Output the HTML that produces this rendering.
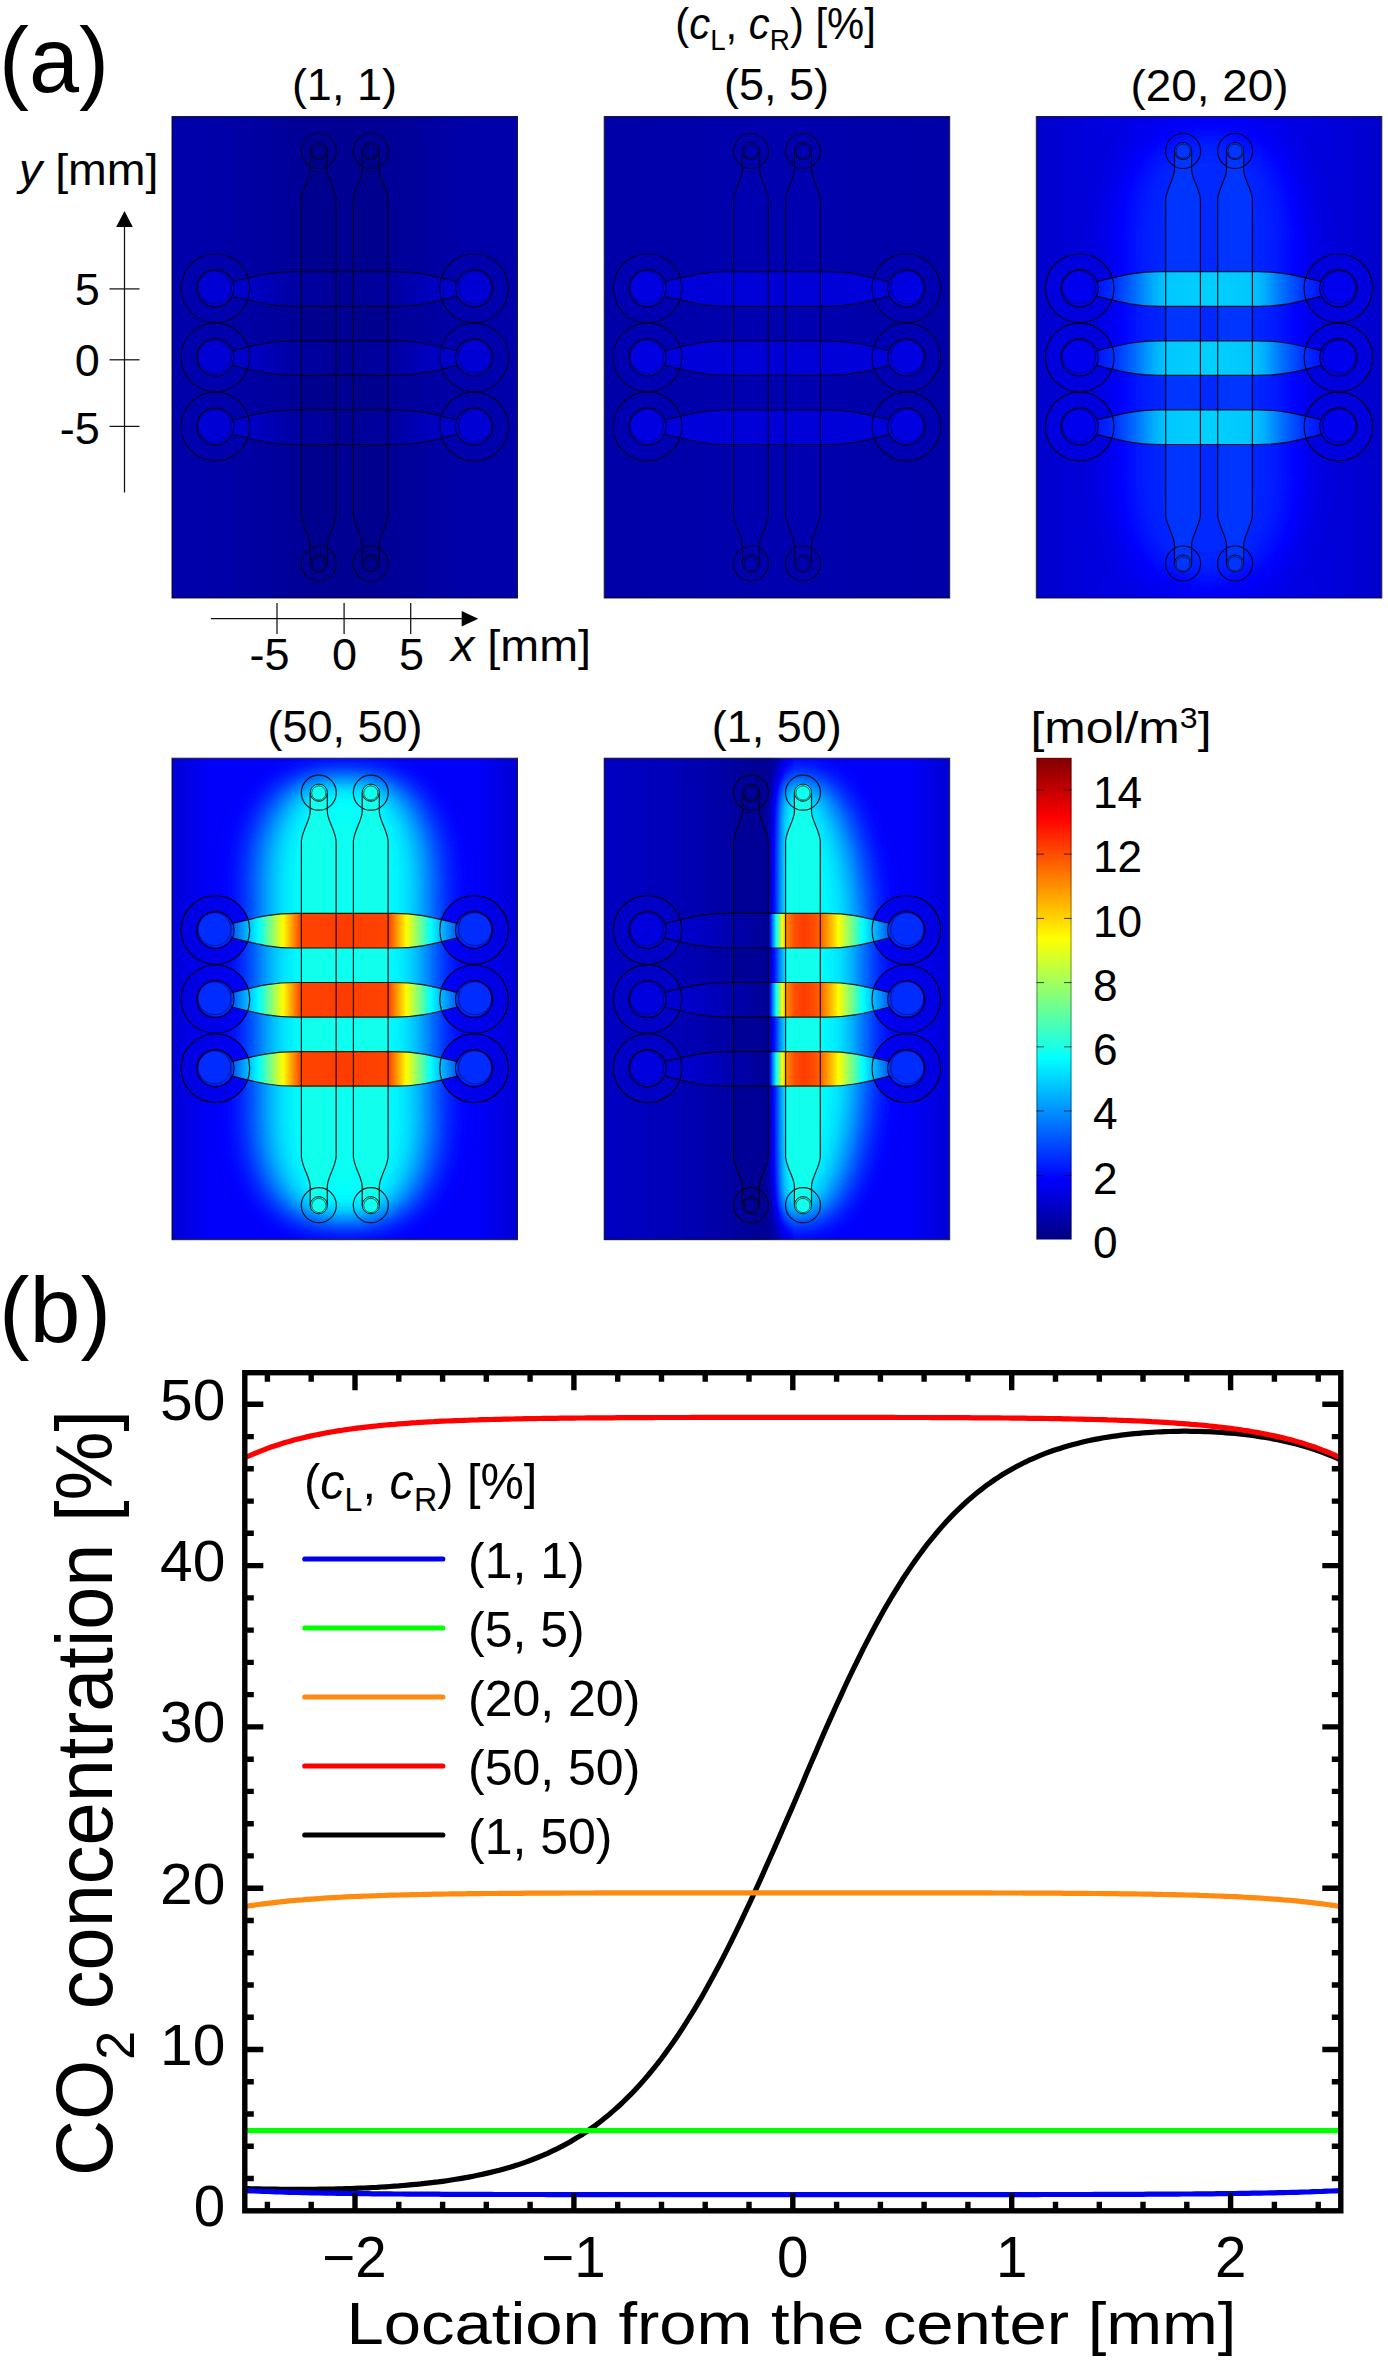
<!DOCTYPE html>
<html lang="en"><head><meta charset="utf-8"><title>CO2 concentration figure</title>
<style>
html,body{margin:0;padding:0;background:#fff;}
body{width:1388px;height:2362px;overflow:hidden;}
svg{display:block;}
text{font-family:"Liberation Sans", sans-serif;fill:#000;}
</style></head><body>
<svg width="1388" height="2362" viewBox="0 0 1388 2362">
<defs>
<clipPath id="pclip"><rect x="0" y="0" width="345.5" height="481.5"/></clipPath>
<g id="outl"><g fill="none" stroke="#000" stroke-width="1.2"><path d="M138.2 34.5L138.2 53.0C138.2 62.0 130.9 70.5 129.4 82.5L129.4 399.0C130.9 411.0 138.2 419.5 138.2 428.5L138.2 447.0M155.3 447.0L155.3 428.5C155.3 419.5 162.6 411.0 164.1 399.0L164.1 82.5C162.6 70.5 155.3 62.0 155.3 53.0L155.3 34.5"/><circle cx="146.8" cy="34.5" r="17.5"/><circle cx="146.8" cy="34.5" r="8.6" stroke-width="1"/><circle cx="146.8" cy="34.8" r="7.1" stroke-opacity="0.7" stroke-width="0.9"/><path d="M146.8 25.9v1.6M146.8 43.1v-1.6" stroke-opacity="0.7" stroke-width="0.9"/><circle cx="146.8" cy="447.0" r="17.5"/><circle cx="146.8" cy="447.0" r="8.6" stroke-width="1"/><circle cx="146.8" cy="447.3" r="7.1" stroke-opacity="0.7" stroke-width="0.9"/><path d="M146.8 438.4v1.6M146.8 455.6v-1.6" stroke-opacity="0.7" stroke-width="0.9"/><path d="M190.2 34.5L190.2 53.0C190.2 62.0 182.9 70.5 181.4 82.5L181.4 399.0C182.9 411.0 190.2 419.5 190.2 428.5L190.2 447.0M207.3 447.0L207.3 428.5C207.3 419.5 214.6 411.0 216.1 399.0L216.1 82.5C214.6 70.5 207.3 62.0 207.3 53.0L207.3 34.5"/><circle cx="198.8" cy="34.5" r="17.5"/><circle cx="198.8" cy="34.5" r="8.6" stroke-width="1"/><circle cx="198.8" cy="34.8" r="7.1" stroke-opacity="0.7" stroke-width="0.9"/><path d="M198.8 25.9v1.6M198.8 43.1v-1.6" stroke-opacity="0.7" stroke-width="0.9"/><circle cx="198.8" cy="447.0" r="17.5"/><circle cx="198.8" cy="447.0" r="8.6" stroke-width="1"/><circle cx="198.8" cy="447.3" r="7.1" stroke-opacity="0.7" stroke-width="0.9"/><path d="M198.8 438.4v1.6M198.8 455.6v-1.6" stroke-opacity="0.7" stroke-width="0.9"/><path d="M60.0 165.3C90.0 157.7 102.0 155.2 124.0 155.2L221.5 155.2C243.5 155.2 255.5 157.7 285.5 165.3M60.0 179.7C90.0 187.3 102.0 189.8 124.0 189.8L221.5 189.8C243.5 189.8 255.5 187.3 285.5 179.7"/><circle cx="43.4" cy="171.8" r="34.3"/><circle cx="43.4" cy="171.8" r="18.6"/><circle cx="42.5" cy="170.9" r="16.5" stroke-opacity="0.55" stroke-width="1"/><circle cx="302.1" cy="171.8" r="34.3"/><circle cx="302.1" cy="171.8" r="18.6"/><circle cx="303.0" cy="170.9" r="16.5" stroke-opacity="0.55" stroke-width="1"/><path d="M60.0 234.4C90.0 226.8 102.0 224.3 124.0 224.3L221.5 224.3C243.5 224.3 255.5 226.8 285.5 234.4M60.0 248.8C90.0 256.4 102.0 258.9 124.0 258.9L221.5 258.9C243.5 258.9 255.5 256.4 285.5 248.8"/><circle cx="43.4" cy="240.9" r="34.3"/><circle cx="43.4" cy="240.9" r="18.6"/><circle cx="42.5" cy="240.0" r="16.5" stroke-opacity="0.55" stroke-width="1"/><circle cx="302.1" cy="240.9" r="34.3"/><circle cx="302.1" cy="240.9" r="18.6"/><circle cx="303.0" cy="240.0" r="16.5" stroke-opacity="0.55" stroke-width="1"/><path d="M60.0 303.5C90.0 295.9 102.0 293.4 124.0 293.4L221.5 293.4C243.5 293.4 255.5 295.9 285.5 303.5M60.0 317.9C90.0 325.5 102.0 328.0 124.0 328.0L221.5 328.0C243.5 328.0 255.5 325.5 285.5 317.9"/><circle cx="43.4" cy="310.0" r="34.3"/><circle cx="43.4" cy="310.0" r="18.6"/><circle cx="42.5" cy="309.1" r="16.5" stroke-opacity="0.55" stroke-width="1"/><circle cx="302.1" cy="310.0" r="34.3"/><circle cx="302.1" cy="310.0" r="18.6"/><circle cx="303.0" cy="309.1" r="16.5" stroke-opacity="0.55" stroke-width="1"/></g></g>
<filter id="jetmap" filterUnits="userSpaceOnUse" x="0" y="0" width="345.5" height="481.5" color-interpolation-filters="sRGB"><feComponentTransfer><feFuncR type="table" tableValues="0 0 0 0 .5 1 1 1 .5"/><feFuncG type="table" tableValues="0 0 .5 1 1 1 .5 0 0"/><feFuncB type="table" tableValues=".5 1 1 1 .5 0 0 0 0"/></feComponentTransfer></filter>
<filter id="b3" x="-60%" y="-60%" width="220%" height="220%" color-interpolation-filters="sRGB"><feGaussianBlur stdDeviation="3"/></filter>
<filter id="b5" x="-60%" y="-60%" width="220%" height="220%" color-interpolation-filters="sRGB"><feGaussianBlur stdDeviation="5"/></filter>
<filter id="b8" x="-60%" y="-60%" width="220%" height="220%" color-interpolation-filters="sRGB"><feGaussianBlur stdDeviation="8"/></filter>
<filter id="b12" x="-60%" y="-60%" width="220%" height="220%" color-interpolation-filters="sRGB"><feGaussianBlur stdDeviation="12"/></filter>
<filter id="b15" x="-60%" y="-60%" width="220%" height="220%" color-interpolation-filters="sRGB"><feGaussianBlur stdDeviation="15"/></filter>
<filter id="b18" x="-60%" y="-60%" width="220%" height="220%" color-interpolation-filters="sRGB"><feGaussianBlur stdDeviation="18"/></filter>
<filter id="b20" x="-60%" y="-60%" width="220%" height="220%" color-interpolation-filters="sRGB"><feGaussianBlur stdDeviation="20"/></filter>
<filter id="b24" x="-60%" y="-60%" width="220%" height="220%" color-interpolation-filters="sRGB"><feGaussianBlur stdDeviation="24"/></filter>
<linearGradient id="p1bg" gradientUnits="userSpaceOnUse" x1="0.0" y1="0" x2="345.5" y2="0"><stop offset="0.0000" stop-color="rgb(0,0,172)"/><stop offset="0.1592" stop-color="rgb(0,0,168)"/><stop offset="0.3329" stop-color="rgb(0,0,154)"/><stop offset="0.4342" stop-color="rgb(0,0,148)"/><stop offset="0.4978" stop-color="rgb(0,0,147)"/><stop offset="0.5022" stop-color="rgb(0,0,147)"/><stop offset="0.5658" stop-color="rgb(0,0,148)"/><stop offset="0.6671" stop-color="rgb(0,0,154)"/><stop offset="0.8408" stop-color="rgb(0,0,168)"/><stop offset="1.0000" stop-color="rgb(0,0,172)"/></linearGradient>
<linearGradient id="p1h" gradientUnits="userSpaceOnUse" x1="0.0" y1="0" x2="345.5" y2="0"><stop offset="0.1737" stop-color="rgb(0,0,208)"/><stop offset="0.2315" stop-color="rgb(0,0,196)"/><stop offset="0.3705" stop-color="rgb(0,0,160)"/><stop offset="0.4978" stop-color="rgb(0,0,150)"/><stop offset="0.5022" stop-color="rgb(0,0,150)"/><stop offset="0.6295" stop-color="rgb(0,0,160)"/><stop offset="0.7685" stop-color="rgb(0,0,196)"/><stop offset="0.8263" stop-color="rgb(0,0,208)"/></linearGradient>
<linearGradient id="p2bg" gradientUnits="userSpaceOnUse" x1="0.0" y1="0" x2="345.5" y2="0"><stop offset="0.0000" stop-color="rgb(0,0,168)"/><stop offset="0.4978" stop-color="rgb(0,0,174)"/><stop offset="1.0000" stop-color="rgb(0,0,168)"/></linearGradient>
<linearGradient id="p2h" gradientUnits="userSpaceOnUse" x1="0.0" y1="0" x2="345.5" y2="0"><stop offset="0.1737" stop-color="rgb(0,0,220)"/><stop offset="0.4978" stop-color="rgb(0,0,214)"/><stop offset="0.5022" stop-color="rgb(0,0,214)"/><stop offset="0.8263" stop-color="rgb(0,0,220)"/></linearGradient>
<filter id="bl21x14" x="-60%" y="-60%" width="220%" height="220%" color-interpolation-filters="sRGB"><feGaussianBlur stdDeviation="21 14"/></filter>
<linearGradient id="p3bg" gradientUnits="userSpaceOnUse" x1="0.0" y1="0" x2="345.5" y2="0"><stop offset="0.0000" stop-color="rgb(19,19,19)"/><stop offset="0.1302" stop-color="rgb(23,23,23)"/><stop offset="0.2894" stop-color="rgb(27,27,27)"/><stop offset="0.4978" stop-color="rgb(29,29,29)"/><stop offset="0.5022" stop-color="rgb(29,29,29)"/><stop offset="0.7106" stop-color="rgb(27,27,27)"/><stop offset="0.8698" stop-color="rgb(23,23,23)"/><stop offset="1.0000" stop-color="rgb(19,19,19)"/></linearGradient>
<linearGradient id="p3h" gradientUnits="userSpaceOnUse" x1="0.0" y1="0" x2="345.5" y2="0"><stop offset="0.1737" stop-color="rgb(36,36,36)"/><stop offset="0.2258" stop-color="rgb(44,44,44)"/><stop offset="0.2894" stop-color="rgb(60,60,60)"/><stop offset="0.3415" stop-color="rgb(76,76,76)"/><stop offset="0.3763" stop-color="rgb(82,82,82)"/><stop offset="0.4978" stop-color="rgb(84,84,84)"/><stop offset="0.5022" stop-color="rgb(84,84,84)"/><stop offset="0.6237" stop-color="rgb(82,82,82)"/><stop offset="0.6585" stop-color="rgb(76,76,76)"/><stop offset="0.7106" stop-color="rgb(60,60,60)"/><stop offset="0.7742" stop-color="rgb(44,44,44)"/><stop offset="0.8263" stop-color="rgb(36,36,36)"/></linearGradient>
<filter id="bl20x13" x="-60%" y="-60%" width="220%" height="220%" color-interpolation-filters="sRGB"><feGaussianBlur stdDeviation="20 13"/></filter>
<filter id="bl1x14" x="-60%" y="-60%" width="220%" height="220%" color-interpolation-filters="sRGB"><feGaussianBlur stdDeviation="1 14"/></filter>
<linearGradient id="p4bg" gradientUnits="userSpaceOnUse" x1="0.0" y1="0" x2="345.5" y2="0"><stop offset="0.0000" stop-color="rgb(22,22,22)"/><stop offset="0.1158" stop-color="rgb(31,31,31)"/><stop offset="0.4978" stop-color="rgb(32,32,32)"/><stop offset="0.8842" stop-color="rgb(31,31,31)"/><stop offset="1.0000" stop-color="rgb(22,22,22)"/></linearGradient>
<linearGradient id="p4h" gradientUnits="userSpaceOnUse" x1="0.0" y1="0" x2="345.5" y2="0"><stop offset="0.1737" stop-color="rgb(53,53,53)"/><stop offset="0.2113" stop-color="rgb(74,74,74)"/><stop offset="0.2518" stop-color="rgb(96,96,96)"/><stop offset="0.2865" stop-color="rgb(128,128,128)"/><stop offset="0.3213" stop-color="rgb(159,159,159)"/><stop offset="0.3502" stop-color="rgb(186,186,186)"/><stop offset="0.3719" stop-color="rgb(206,206,206)"/><stop offset="0.4978" stop-color="rgb(208,208,208)"/><stop offset="0.5022" stop-color="rgb(208,208,208)"/><stop offset="0.6281" stop-color="rgb(206,206,206)"/><stop offset="0.6498" stop-color="rgb(186,186,186)"/><stop offset="0.6787" stop-color="rgb(159,159,159)"/><stop offset="0.7135" stop-color="rgb(128,128,128)"/><stop offset="0.7482" stop-color="rgb(96,96,96)"/><stop offset="0.7887" stop-color="rgb(74,74,74)"/><stop offset="0.8263" stop-color="rgb(53,53,53)"/></linearGradient>
<filter id="bl19x13" x="-60%" y="-60%" width="220%" height="220%" color-interpolation-filters="sRGB"><feGaussianBlur stdDeviation="19 13"/></filter>
<filter id="bl7x7" x="-60%" y="-60%" width="220%" height="220%" color-interpolation-filters="sRGB"><feGaussianBlur stdDeviation="7 7"/></filter>
<linearGradient id="p5sink" gradientUnits="userSpaceOnUse" x1="0.0" y1="0" x2="164.0" y2="0"><stop offset="0.0000" stop-color="rgb(17,17,17)"/><stop offset="0.3659" stop-color="rgb(15,15,15)"/><stop offset="0.6707" stop-color="rgb(11,11,11)"/><stop offset="0.9146" stop-color="rgb(6,6,6)"/><stop offset="1.0000" stop-color="rgb(5,5,5)"/></linearGradient>
<linearGradient id="p5bg" gradientUnits="userSpaceOnUse" x1="0.0" y1="0" x2="345.5" y2="0"><stop offset="0.0000" stop-color="rgb(17,17,17)"/><stop offset="0.1737" stop-color="rgb(15,15,15)"/><stop offset="0.3184" stop-color="rgb(11,11,11)"/><stop offset="0.4342" stop-color="rgb(6,6,6)"/><stop offset="0.5499" stop-color="rgb(32,32,32)"/><stop offset="0.8842" stop-color="rgb(31,31,31)"/><stop offset="1.0000" stop-color="rgb(22,22,22)"/></linearGradient>
<linearGradient id="p5h" gradientUnits="userSpaceOnUse" x1="0.0" y1="0" x2="345.5" y2="0"><stop offset="0.1737" stop-color="rgb(22,22,22)"/><stop offset="0.2894" stop-color="rgb(17,17,17)"/><stop offset="0.4052" stop-color="rgb(10,10,10)"/><stop offset="0.4689" stop-color="rgb(6,6,6)"/><stop offset="0.4805" stop-color="rgb(37,37,37)"/><stop offset="0.4935" stop-color="rgb(82,82,82)"/><stop offset="0.5065" stop-color="rgb(126,126,126)"/><stop offset="0.5166" stop-color="rgb(159,159,159)"/><stop offset="0.5268" stop-color="rgb(188,188,188)"/><stop offset="0.5499" stop-color="rgb(203,203,203)"/><stop offset="0.5760" stop-color="rgb(208,208,208)"/><stop offset="0.6078" stop-color="rgb(204,204,204)"/><stop offset="0.6281" stop-color="rgb(197,197,197)"/><stop offset="0.6512" stop-color="rgb(181,181,181)"/><stop offset="0.6787" stop-color="rgb(159,159,159)"/><stop offset="0.7135" stop-color="rgb(128,128,128)"/><stop offset="0.7482" stop-color="rgb(96,96,96)"/><stop offset="0.7887" stop-color="rgb(74,74,74)"/><stop offset="0.8263" stop-color="rgb(53,53,53)"/></linearGradient>
<linearGradient id="jet" gradientUnits="userSpaceOnUse" x1="0" y1="1239.5" x2="0" y2="757.8"><stop offset="0.000" stop-color="rgb(0,0,128)"/><stop offset="0.125" stop-color="rgb(0,0,255)"/><stop offset="0.375" stop-color="rgb(0,255,255)"/><stop offset="0.625" stop-color="rgb(255,255,0)"/><stop offset="0.875" stop-color="rgb(255,0,0)"/><stop offset="1.000" stop-color="rgb(128,0,0)"/></linearGradient>
</defs>
<rect x="0" y="0" width="1388" height="2362" fill="#fff"/>
<g transform="translate(172.0,116.5)"><g clip-path="url(#pclip)"><g><rect x="0" y="0" width="345.5" height="481.5" fill="url(#p1bg)"/><path d="M138.2 34.5L138.2 53.0C138.2 62.0 130.9 70.5 129.4 82.5L129.4 399.0C130.9 411.0 138.2 419.5 138.2 428.5L138.2 447.0L155.3 447.0L155.3 428.5C155.3 419.5 162.6 411.0 164.1 399.0L164.1 82.5C162.6 70.5 155.3 62.0 155.3 53.0L155.3 34.5Z" fill="rgb(0,0,143)"/><circle cx="146.8" cy="34.5" r="8.6" fill="rgb(0,0,143)"/><circle cx="146.8" cy="447.0" r="8.6" fill="rgb(0,0,143)"/><path d="M190.2 34.5L190.2 53.0C190.2 62.0 182.9 70.5 181.4 82.5L181.4 399.0C182.9 411.0 190.2 419.5 190.2 428.5L190.2 447.0L207.3 447.0L207.3 428.5C207.3 419.5 214.6 411.0 216.1 399.0L216.1 82.5C214.6 70.5 207.3 62.0 207.3 53.0L207.3 34.5Z" fill="rgb(0,0,143)"/><circle cx="198.8" cy="34.5" r="8.6" fill="rgb(0,0,143)"/><circle cx="198.8" cy="447.0" r="8.6" fill="rgb(0,0,143)"/><circle cx="43.4" cy="171.8" r="34.3" fill="rgb(0,0,172)"/><circle cx="302.1" cy="171.8" r="34.3" fill="rgb(0,0,172)"/><circle cx="43.4" cy="240.9" r="34.3" fill="rgb(0,0,172)"/><circle cx="302.1" cy="240.9" r="34.3" fill="rgb(0,0,172)"/><circle cx="43.4" cy="310.0" r="34.3" fill="rgb(0,0,172)"/><circle cx="302.1" cy="310.0" r="34.3" fill="rgb(0,0,172)"/><path d="M60.0 165.3C90.0 157.7 102.0 155.2 124.0 155.2L221.5 155.2C243.5 155.2 255.5 157.7 285.5 165.3L285.5 179.7C255.5 187.3 243.5 189.8 221.5 189.8L124.0 189.8C102.0 189.8 90.0 187.3 60.0 179.7Z" fill="url(#p1h)"/><path d="M60.0 234.4C90.0 226.8 102.0 224.3 124.0 224.3L221.5 224.3C243.5 224.3 255.5 226.8 285.5 234.4L285.5 248.8C255.5 256.4 243.5 258.9 221.5 258.9L124.0 258.9C102.0 258.9 90.0 256.4 60.0 248.8Z" fill="url(#p1h)"/><path d="M60.0 303.5C90.0 295.9 102.0 293.4 124.0 293.4L221.5 293.4C243.5 293.4 255.5 295.9 285.5 303.5L285.5 317.9C255.5 325.5 243.5 328.0 221.5 328.0L124.0 328.0C102.0 328.0 90.0 325.5 60.0 317.9Z" fill="url(#p1h)"/><circle cx="43.4" cy="171.8" r="17.4" fill="rgb(0,0,212)"/><circle cx="302.1" cy="171.8" r="17.4" fill="rgb(0,0,212)"/><circle cx="43.4" cy="240.9" r="17.4" fill="rgb(0,0,212)"/><circle cx="302.1" cy="240.9" r="17.4" fill="rgb(0,0,212)"/><circle cx="43.4" cy="310.0" r="17.4" fill="rgb(0,0,212)"/><circle cx="302.1" cy="310.0" r="17.4" fill="rgb(0,0,212)"/></g><use href="#outl" opacity="0.74"/></g><rect x="0" y="0" width="345.5" height="481.5" fill="none" stroke="#000" stroke-opacity="0.85" stroke-width="1"/></g>
<g transform="translate(604.2,116.5)"><g clip-path="url(#pclip)"><g><rect x="0" y="0" width="345.5" height="481.5" fill="url(#p2bg)"/><path d="M138.2 34.5L138.2 53.0C138.2 62.0 130.9 70.5 129.4 82.5L129.4 399.0C130.9 411.0 138.2 419.5 138.2 428.5L138.2 447.0L155.3 447.0L155.3 428.5C155.3 419.5 162.6 411.0 164.1 399.0L164.1 82.5C162.6 70.5 155.3 62.0 155.3 53.0L155.3 34.5Z" fill="rgb(0,0,176)"/><circle cx="146.8" cy="34.5" r="8.6" fill="rgb(0,0,176)"/><circle cx="146.8" cy="447.0" r="8.6" fill="rgb(0,0,176)"/><path d="M190.2 34.5L190.2 53.0C190.2 62.0 182.9 70.5 181.4 82.5L181.4 399.0C182.9 411.0 190.2 419.5 190.2 428.5L190.2 447.0L207.3 447.0L207.3 428.5C207.3 419.5 214.6 411.0 216.1 399.0L216.1 82.5C214.6 70.5 207.3 62.0 207.3 53.0L207.3 34.5Z" fill="rgb(0,0,176)"/><circle cx="198.8" cy="34.5" r="8.6" fill="rgb(0,0,176)"/><circle cx="198.8" cy="447.0" r="8.6" fill="rgb(0,0,176)"/><circle cx="43.4" cy="171.8" r="34.3" fill="rgb(0,0,178)"/><circle cx="302.1" cy="171.8" r="34.3" fill="rgb(0,0,178)"/><circle cx="43.4" cy="240.9" r="34.3" fill="rgb(0,0,178)"/><circle cx="302.1" cy="240.9" r="34.3" fill="rgb(0,0,178)"/><circle cx="43.4" cy="310.0" r="34.3" fill="rgb(0,0,178)"/><circle cx="302.1" cy="310.0" r="34.3" fill="rgb(0,0,178)"/><path d="M60.0 165.3C90.0 157.7 102.0 155.2 124.0 155.2L221.5 155.2C243.5 155.2 255.5 157.7 285.5 165.3L285.5 179.7C255.5 187.3 243.5 189.8 221.5 189.8L124.0 189.8C102.0 189.8 90.0 187.3 60.0 179.7Z" fill="url(#p2h)"/><path d="M60.0 234.4C90.0 226.8 102.0 224.3 124.0 224.3L221.5 224.3C243.5 224.3 255.5 226.8 285.5 234.4L285.5 248.8C255.5 256.4 243.5 258.9 221.5 258.9L124.0 258.9C102.0 258.9 90.0 256.4 60.0 248.8Z" fill="url(#p2h)"/><path d="M60.0 303.5C90.0 295.9 102.0 293.4 124.0 293.4L221.5 293.4C243.5 293.4 255.5 295.9 285.5 303.5L285.5 317.9C255.5 325.5 243.5 328.0 221.5 328.0L124.0 328.0C102.0 328.0 90.0 325.5 60.0 317.9Z" fill="url(#p2h)"/><circle cx="43.4" cy="171.8" r="17.4" fill="rgb(0,0,224)"/><circle cx="302.1" cy="171.8" r="17.4" fill="rgb(0,0,224)"/><circle cx="43.4" cy="240.9" r="17.4" fill="rgb(0,0,224)"/><circle cx="302.1" cy="240.9" r="17.4" fill="rgb(0,0,224)"/><circle cx="43.4" cy="310.0" r="17.4" fill="rgb(0,0,224)"/><circle cx="302.1" cy="310.0" r="17.4" fill="rgb(0,0,224)"/></g><use href="#outl" opacity="0.74"/></g><rect x="0" y="0" width="345.5" height="481.5" fill="none" stroke="#000" stroke-opacity="0.85" stroke-width="1"/></g>
<g transform="translate(1036.3,116.5)"><g clip-path="url(#pclip)"><g filter="url(#jetmap)"><rect x="0" y="0" width="345.5" height="481.5" fill="url(#p3bg)"/><rect x="90.0" y="16.0" width="165.5" height="449.5" rx="66.0" ry="100.0" fill="rgb(42,42,42)" filter="url(#bl21x14)"/><path d="M138.2 34.5L138.2 53.0C138.2 62.0 130.9 70.5 129.4 82.5L129.4 399.0C130.9 411.0 138.2 419.5 138.2 428.5L138.2 447.0L155.3 447.0L155.3 428.5C155.3 419.5 162.6 411.0 164.1 399.0L164.1 82.5C162.6 70.5 155.3 62.0 155.3 53.0L155.3 34.5Z" fill="rgb(45,45,45)"/><circle cx="146.8" cy="34.5" r="8.6" fill="rgb(45,45,45)"/><circle cx="146.8" cy="447.0" r="8.6" fill="rgb(45,45,45)"/><path d="M190.2 34.5L190.2 53.0C190.2 62.0 182.9 70.5 181.4 82.5L181.4 399.0C182.9 411.0 190.2 419.5 190.2 428.5L190.2 447.0L207.3 447.0L207.3 428.5C207.3 419.5 214.6 411.0 216.1 399.0L216.1 82.5C214.6 70.5 207.3 62.0 207.3 53.0L207.3 34.5Z" fill="rgb(45,45,45)"/><circle cx="198.8" cy="34.5" r="8.6" fill="rgb(45,45,45)"/><circle cx="198.8" cy="447.0" r="8.6" fill="rgb(45,45,45)"/><circle cx="43.4" cy="171.8" r="34.3" fill="rgb(24,24,24)"/><circle cx="302.1" cy="171.8" r="34.3" fill="rgb(24,24,24)"/><circle cx="43.4" cy="240.9" r="34.3" fill="rgb(24,24,24)"/><circle cx="302.1" cy="240.9" r="34.3" fill="rgb(24,24,24)"/><circle cx="43.4" cy="310.0" r="34.3" fill="rgb(24,24,24)"/><circle cx="302.1" cy="310.0" r="34.3" fill="rgb(24,24,24)"/><path d="M60.0 165.3C90.0 157.7 102.0 155.2 124.0 155.2L221.5 155.2C243.5 155.2 255.5 157.7 285.5 165.3L285.5 179.7C255.5 187.3 243.5 189.8 221.5 189.8L124.0 189.8C102.0 189.8 90.0 187.3 60.0 179.7Z" fill="url(#p3h)"/><path d="M60.0 234.4C90.0 226.8 102.0 224.3 124.0 224.3L221.5 224.3C243.5 224.3 255.5 226.8 285.5 234.4L285.5 248.8C255.5 256.4 243.5 258.9 221.5 258.9L124.0 258.9C102.0 258.9 90.0 256.4 60.0 248.8Z" fill="url(#p3h)"/><path d="M60.0 303.5C90.0 295.9 102.0 293.4 124.0 293.4L221.5 293.4C243.5 293.4 255.5 295.9 285.5 303.5L285.5 317.9C255.5 325.5 243.5 328.0 221.5 328.0L124.0 328.0C102.0 328.0 90.0 325.5 60.0 317.9Z" fill="url(#p3h)"/><circle cx="43.4" cy="171.8" r="17.4" fill="rgb(28,28,28)"/><circle cx="302.1" cy="171.8" r="17.4" fill="rgb(28,28,28)"/><circle cx="43.4" cy="240.9" r="17.4" fill="rgb(28,28,28)"/><circle cx="302.1" cy="240.9" r="17.4" fill="rgb(28,28,28)"/><circle cx="43.4" cy="310.0" r="17.4" fill="rgb(28,28,28)"/><circle cx="302.1" cy="310.0" r="17.4" fill="rgb(28,28,28)"/></g><use href="#outl" opacity="0.86"/></g><rect x="0" y="0" width="345.5" height="481.5" fill="none" stroke="#000" stroke-opacity="0.85" stroke-width="1"/></g>
<g transform="translate(172.0,758.2)"><g clip-path="url(#pclip)"><g filter="url(#jetmap)"><rect x="0" y="0" width="345.5" height="481.5" fill="url(#p4bg)"/><rect x="88.0" y="18.0" width="169.5" height="445.5" rx="64.0" ry="100.0" fill="rgb(96,96,96)" filter="url(#bl20x13)"/><rect x="163.1" y="56.0" width="19.4" height="369.5" rx="0.0" ry="0.0" fill="rgb(99,99,99)" filter="url(#bl1x14)"/><path d="M138.2 34.5L138.2 53.0C138.2 62.0 130.9 70.5 129.4 82.5L129.4 399.0C130.9 411.0 138.2 419.5 138.2 428.5L138.2 447.0L155.3 447.0L155.3 428.5C155.3 419.5 162.6 411.0 164.1 399.0L164.1 82.5C162.6 70.5 155.3 62.0 155.3 53.0L155.3 34.5Z" fill="rgb(100,100,100)"/><circle cx="146.8" cy="34.5" r="8.6" fill="rgb(100,100,100)"/><circle cx="146.8" cy="447.0" r="8.6" fill="rgb(100,100,100)"/><path d="M190.2 34.5L190.2 53.0C190.2 62.0 182.9 70.5 181.4 82.5L181.4 399.0C182.9 411.0 190.2 419.5 190.2 428.5L190.2 447.0L207.3 447.0L207.3 428.5C207.3 419.5 214.6 411.0 216.1 399.0L216.1 82.5C214.6 70.5 207.3 62.0 207.3 53.0L207.3 34.5Z" fill="rgb(100,100,100)"/><circle cx="198.8" cy="34.5" r="8.6" fill="rgb(100,100,100)"/><circle cx="198.8" cy="447.0" r="8.6" fill="rgb(100,100,100)"/><circle cx="43.4" cy="171.8" r="34.3" fill="rgb(25,25,25)" fill-opacity="0.60"/><circle cx="302.1" cy="171.8" r="34.3" fill="rgb(25,25,25)" fill-opacity="0.60"/><circle cx="43.4" cy="240.9" r="34.3" fill="rgb(25,25,25)" fill-opacity="0.60"/><circle cx="302.1" cy="240.9" r="34.3" fill="rgb(25,25,25)" fill-opacity="0.60"/><circle cx="43.4" cy="310.0" r="34.3" fill="rgb(25,25,25)" fill-opacity="0.60"/><circle cx="302.1" cy="310.0" r="34.3" fill="rgb(25,25,25)" fill-opacity="0.60"/><path d="M60.0 165.3C90.0 157.7 102.0 155.2 124.0 155.2L221.5 155.2C243.5 155.2 255.5 157.7 285.5 165.3L285.5 179.7C255.5 187.3 243.5 189.8 221.5 189.8L124.0 189.8C102.0 189.8 90.0 187.3 60.0 179.7Z" fill="url(#p4h)"/><path d="M60.0 234.4C90.0 226.8 102.0 224.3 124.0 224.3L221.5 224.3C243.5 224.3 255.5 226.8 285.5 234.4L285.5 248.8C255.5 256.4 243.5 258.9 221.5 258.9L124.0 258.9C102.0 258.9 90.0 256.4 60.0 248.8Z" fill="url(#p4h)"/><path d="M60.0 303.5C90.0 295.9 102.0 293.4 124.0 293.4L221.5 293.4C243.5 293.4 255.5 295.9 285.5 303.5L285.5 317.9C255.5 325.5 243.5 328.0 221.5 328.0L124.0 328.0C102.0 328.0 90.0 325.5 60.0 317.9Z" fill="url(#p4h)"/><circle cx="43.4" cy="171.8" r="17.4" fill="rgb(43,43,43)"/><circle cx="302.1" cy="171.8" r="17.4" fill="rgb(43,43,43)"/><circle cx="43.4" cy="240.9" r="17.4" fill="rgb(43,43,43)"/><circle cx="302.1" cy="240.9" r="17.4" fill="rgb(43,43,43)"/><circle cx="43.4" cy="310.0" r="17.4" fill="rgb(43,43,43)"/><circle cx="302.1" cy="310.0" r="17.4" fill="rgb(43,43,43)"/></g><use href="#outl" opacity="0.88"/></g><rect x="0" y="0" width="345.5" height="481.5" fill="none" stroke="#000" stroke-opacity="0.85" stroke-width="1"/></g>
<g transform="translate(604.2,758.2)"><g clip-path="url(#pclip)"><g filter="url(#jetmap)"><rect x="0" y="0" width="345.5" height="481.5" fill="url(#p5bg)"/><rect x="130.0" y="18.0" width="127.5" height="445.5" rx="62.0" ry="160.0" fill="rgb(96,96,96)" filter="url(#bl19x13)"/><rect x="-60" y="-60" width="232.8" height="601.5" fill="url(#p5sink)" filter="url(#bl7x7)"/><path d="M138.2 34.5L138.2 53.0C138.2 62.0 130.9 70.5 129.4 82.5L129.4 399.0C130.9 411.0 138.2 419.5 138.2 428.5L138.2 447.0L155.3 447.0L155.3 428.5C155.3 419.5 162.6 411.0 164.1 399.0L164.1 82.5C162.6 70.5 155.3 62.0 155.3 53.0L155.3 34.5Z" fill="rgb(6,6,6)"/><circle cx="146.8" cy="34.5" r="8.6" fill="rgb(6,6,6)"/><circle cx="146.8" cy="447.0" r="8.6" fill="rgb(6,6,6)"/><path d="M190.2 34.5L190.2 53.0C190.2 62.0 182.9 70.5 181.4 82.5L181.4 399.0C182.9 411.0 190.2 419.5 190.2 428.5L190.2 447.0L207.3 447.0L207.3 428.5C207.3 419.5 214.6 411.0 216.1 399.0L216.1 82.5C214.6 70.5 207.3 62.0 207.3 53.0L207.3 34.5Z" fill="rgb(100,100,100)"/><circle cx="198.8" cy="34.5" r="8.6" fill="rgb(100,100,100)"/><circle cx="198.8" cy="447.0" r="8.6" fill="rgb(100,100,100)"/><circle cx="43.4" cy="171.8" r="34.3" fill="rgb(18,18,18)"/><circle cx="302.1" cy="171.8" r="34.3" fill="rgb(25,25,25)" fill-opacity="0.60"/><circle cx="43.4" cy="240.9" r="34.3" fill="rgb(18,18,18)"/><circle cx="302.1" cy="240.9" r="34.3" fill="rgb(25,25,25)" fill-opacity="0.60"/><circle cx="43.4" cy="310.0" r="34.3" fill="rgb(18,18,18)"/><circle cx="302.1" cy="310.0" r="34.3" fill="rgb(25,25,25)" fill-opacity="0.60"/><path d="M60.0 165.3C90.0 157.7 102.0 155.2 124.0 155.2L221.5 155.2C243.5 155.2 255.5 157.7 285.5 165.3L285.5 179.7C255.5 187.3 243.5 189.8 221.5 189.8L124.0 189.8C102.0 189.8 90.0 187.3 60.0 179.7Z" fill="url(#p5h)"/><path d="M60.0 234.4C90.0 226.8 102.0 224.3 124.0 224.3L221.5 224.3C243.5 224.3 255.5 226.8 285.5 234.4L285.5 248.8C255.5 256.4 243.5 258.9 221.5 258.9L124.0 258.9C102.0 258.9 90.0 256.4 60.0 248.8Z" fill="url(#p5h)"/><path d="M60.0 303.5C90.0 295.9 102.0 293.4 124.0 293.4L221.5 293.4C243.5 293.4 255.5 295.9 285.5 303.5L285.5 317.9C255.5 325.5 243.5 328.0 221.5 328.0L124.0 328.0C102.0 328.0 90.0 325.5 60.0 317.9Z" fill="url(#p5h)"/><circle cx="43.4" cy="171.8" r="17.4" fill="rgb(24,24,24)"/><circle cx="302.1" cy="171.8" r="17.4" fill="rgb(43,43,43)"/><circle cx="43.4" cy="240.9" r="17.4" fill="rgb(24,24,24)"/><circle cx="302.1" cy="240.9" r="17.4" fill="rgb(43,43,43)"/><circle cx="43.4" cy="310.0" r="17.4" fill="rgb(24,24,24)"/><circle cx="302.1" cy="310.0" r="17.4" fill="rgb(43,43,43)"/></g><use href="#outl" opacity="0.85"/></g><rect x="0" y="0" width="345.5" height="481.5" fill="none" stroke="#000" stroke-opacity="0.85" stroke-width="1"/></g>
<text x="-1.0" y="92.0" font-size="92.0" text-anchor="start" textLength="110.0" lengthAdjust="spacingAndGlyphs">(a)</text>
<text x="344.4" y="100.0" font-size="45.0" text-anchor="middle">(1, 1)</text>
<text x="776.5" y="100.0" font-size="45.0" text-anchor="middle">(5, 5)</text>
<text x="1209.5" y="100.5" font-size="45.0" text-anchor="middle" textLength="158.0" lengthAdjust="spacingAndGlyphs">(20, 20)</text>
<text x="345.0" y="742.0" font-size="45.0" text-anchor="middle">(50, 50)</text>
<text x="776.8" y="742.0" font-size="45.0" text-anchor="middle">(1, 50)</text>
<text x="675.3" y="39.0" font-size="45.0" textLength="200.5" lengthAdjust="spacingAndGlyphs">(<tspan font-style="italic">c</tspan><tspan font-size="30.0" dy="11.0">L</tspan><tspan dy="-11.0">, </tspan><tspan font-style="italic">c</tspan><tspan font-size="30.0" dy="11.0">R</tspan><tspan dy="-11.0">) [%]</tspan></text>
<text x="19" y="185" font-size="45.0" textLength="139.5" lengthAdjust="spacingAndGlyphs"><tspan font-style="italic">y</tspan> [mm]</text>
<text x="451" y="660.5" font-size="45.0" textLength="140" lengthAdjust="spacingAndGlyphs"><tspan font-style="italic">x</tspan> [mm]</text>
<text x="99.8" y="305.2" font-size="45.0" text-anchor="end">5</text>
<text x="99.8" y="376.2" font-size="45.0" text-anchor="end">0</text>
<text x="99.8" y="443.8" font-size="45.0" text-anchor="end">-5</text>
<text x="269.5" y="669.5" font-size="45.0" text-anchor="middle">-5</text>
<text x="344.5" y="669.5" font-size="45.0" text-anchor="middle">0</text>
<text x="411.5" y="669.5" font-size="45.0" text-anchor="middle">5</text>
<g stroke="#111" stroke-width="1.25" fill="none"><path d="M124.5 226V492.5"/><path d="M109.5 288.9H139.5"/><path d="M109.5 359.8H139.5"/><path d="M109.5 426.4H139.5"/><path d="M211 618.7H462"/><path d="M277.0 603V634"/><path d="M344.1 603V634"/><path d="M410.7 603V634"/></g><path d="M124.5 211L132.8 227H116.2Z" fill="#000"/><path d="M478.2 618.7L461.7 610.9V626.5Z" fill="#000"/>
<rect x="1036.5" y="757.8" width="35.0" height="481.7" fill="url(#jet)"/>
<g stroke="#000" stroke-opacity="0.7" stroke-width="1"><path d="M1036.5 1175.3h7.5M1071.5 1175.3h-7.5"/><path d="M1036.5 1111.0h7.5M1071.5 1111.0h-7.5"/><path d="M1036.5 1046.8h7.5M1071.5 1046.8h-7.5"/><path d="M1036.5 982.6h7.5M1071.5 982.6h-7.5"/><path d="M1036.5 918.4h7.5M1071.5 918.4h-7.5"/><path d="M1036.5 854.1h7.5M1071.5 854.1h-7.5"/><path d="M1036.5 789.9h7.5M1071.5 789.9h-7.5"/><path d="M1037.0 757.8V1239.5M1071.0 757.8V1239.5" stroke-opacity="0.45"/></g>
<text x="1093.0" y="1257.8" font-size="44.2" text-anchor="start">0</text>
<text x="1093.0" y="1193.6" font-size="44.2" text-anchor="start">2</text>
<text x="1093.0" y="1129.3" font-size="44.2" text-anchor="start">4</text>
<text x="1093.0" y="1065.1" font-size="44.2" text-anchor="start">6</text>
<text x="1093.0" y="1000.9" font-size="44.2" text-anchor="start">8</text>
<text x="1093.0" y="936.7" font-size="44.2" text-anchor="start">10</text>
<text x="1093.0" y="872.4" font-size="44.2" text-anchor="start">12</text>
<text x="1093.0" y="808.2" font-size="44.2" text-anchor="start">14</text>
<text x="1030.5" y="742.8" font-size="45.0" textLength="181" lengthAdjust="spacingAndGlyphs">[mol/m<tspan font-size="29" dy="-15">3</tspan><tspan dy="15">]</tspan></text>
<text x="-1.0" y="1341.5" font-size="92.0" text-anchor="start" textLength="112.0" lengthAdjust="spacingAndGlyphs">(b)</text>
<clipPath id="cclip"><rect x="244.8" y="1372.7" width="1096.0" height="838.1"/></clipPath>
<g clip-path="url(#cclip)">
<path d="M245.5 2188.5L249.9 2188.7L254.3 2188.8L258.7 2188.9L263.1 2189.0L267.4 2189.1L271.8 2189.2L276.2 2189.2L280.6 2189.3L285.0 2189.3L289.3 2189.4L293.7 2189.4L298.1 2189.4L302.5 2189.4L306.8 2189.3L311.2 2189.3L315.6 2189.3L320.0 2189.2L324.4 2189.1L328.7 2189.1L333.1 2189.0L337.5 2188.9L341.9 2188.8L346.2 2188.6L350.6 2188.5L355.0 2188.3L359.4 2188.1L363.8 2188.0L368.1 2187.8L372.5 2187.5L376.9 2187.3L381.3 2187.0L385.6 2186.8L390.0 2186.5L394.4 2186.2L398.8 2185.9L403.2 2185.5L407.5 2185.1L411.9 2184.7L416.3 2184.3L420.7 2183.9L425.0 2183.4L429.4 2182.9L433.8 2182.4L438.2 2181.9L442.6 2181.3L446.9 2180.7L451.3 2180.0L455.7 2179.3L460.1 2178.6L464.4 2177.9L468.8 2177.1L473.2 2176.2L477.6 2175.3L482.0 2174.4L486.3 2173.4L490.7 2172.4L495.1 2171.3L499.5 2170.2L503.9 2169.0L508.2 2167.8L512.6 2166.4L517.0 2165.1L521.4 2163.6L525.7 2162.1L530.1 2160.5L534.5 2158.8L538.9 2157.0L543.3 2155.2L547.6 2153.3L552.0 2151.2L556.4 2149.1L560.8 2146.9L565.1 2144.6L569.5 2142.2L573.9 2139.6L578.3 2136.9L582.7 2134.2L587.0 2131.3L591.4 2128.2L595.8 2125.1L600.2 2121.7L604.5 2118.3L608.9 2114.7L613.3 2110.9L617.7 2107.0L622.1 2103.0L626.4 2098.7L630.8 2094.3L635.2 2089.8L639.6 2085.0L643.9 2080.1L648.3 2075.0L652.7 2069.6L657.1 2064.2L661.5 2058.5L665.8 2052.6L670.2 2046.5L674.6 2040.2L679.0 2033.7L683.3 2027.1L687.7 2020.2L692.1 2013.1L696.5 2005.8L700.9 1998.4L705.2 1990.7L709.6 1982.8L714.0 1974.8L718.4 1966.6L722.8 1958.1L727.1 1949.6L731.5 1940.8L735.9 1931.9L740.3 1922.8L744.6 1913.6L749.0 1904.3L753.4 1894.9L757.8 1885.3L762.2 1875.6L766.5 1865.8L770.9 1856.0L775.3 1846.1L779.7 1836.1L784.0 1826.1L788.4 1816.1L792.8 1806.1L797.2 1795.7L801.6 1785.4L805.9 1775.1L810.3 1764.8L814.7 1754.6L819.1 1744.4L823.4 1734.4L827.8 1724.4L832.2 1714.6L836.6 1704.8L841.0 1695.3L845.3 1685.8L849.7 1676.5L854.1 1667.4L858.5 1658.5L862.8 1649.7L867.2 1641.1L871.6 1632.8L876.0 1624.6L880.4 1616.6L884.7 1608.8L889.1 1601.2L893.5 1593.9L897.9 1586.8L902.2 1579.8L906.6 1573.1L911.0 1566.6L915.4 1560.3L919.8 1554.2L924.1 1548.4L928.5 1542.7L932.9 1537.3L937.3 1532.0L941.7 1526.9L946.0 1522.1L950.4 1517.4L954.8 1512.9L959.2 1508.6L963.5 1504.5L967.9 1500.5L972.3 1496.7L976.7 1493.1L981.1 1489.6L985.4 1486.2L989.8 1483.1L994.2 1480.0L998.6 1477.1L1002.9 1474.3L1007.3 1471.7L1011.7 1469.2L1016.1 1466.8L1020.5 1464.5L1024.8 1462.3L1029.2 1460.2L1033.6 1458.3L1038.0 1456.4L1042.3 1454.6L1046.7 1452.9L1051.1 1451.3L1055.5 1449.8L1059.9 1448.4L1064.2 1447.0L1068.6 1445.8L1073.0 1444.5L1077.4 1443.4L1081.7 1442.3L1086.1 1441.3L1090.5 1440.3L1094.9 1439.4L1099.3 1438.6L1103.6 1437.8L1108.0 1437.1L1112.4 1436.4L1116.8 1435.8L1121.2 1435.2L1125.5 1434.6L1129.9 1434.1L1134.3 1433.7L1138.7 1433.3L1143.0 1432.9L1147.4 1432.6L1151.8 1432.3L1156.2 1432.0L1160.6 1431.8L1164.9 1431.6L1169.3 1431.5L1173.7 1431.3L1178.1 1431.3L1182.4 1431.2L1186.8 1431.2L1191.2 1431.3L1195.6 1431.3L1200.0 1431.4L1204.3 1431.6L1208.7 1431.7L1213.1 1431.9L1217.5 1432.2L1221.8 1432.5L1226.2 1432.8L1230.6 1433.1L1235.0 1433.5L1239.4 1434.0L1243.7 1434.5L1248.1 1435.0L1252.5 1435.5L1256.9 1436.2L1261.2 1436.8L1265.6 1437.5L1270.0 1438.3L1274.4 1439.1L1278.8 1440.0L1283.1 1440.9L1287.5 1441.9L1291.9 1443.0L1296.3 1444.1L1300.6 1445.3L1305.0 1446.5L1309.4 1447.8L1313.8 1449.3L1318.2 1450.7L1322.5 1452.3L1326.9 1454.0L1331.3 1455.7L1335.7 1457.6L1340.0 1459.6" fill="none" stroke="#000" stroke-width="5.2" stroke-linejoin="round"/>
<path d="M245.5 2190.6L249.9 2190.8L254.3 2191.0L258.7 2191.2L263.1 2191.4L267.4 2191.5L271.8 2191.7L276.2 2191.9L280.6 2192.0L285.0 2192.1L289.3 2192.3L293.7 2192.4L298.1 2192.5L302.5 2192.6L306.8 2192.7L311.2 2192.8L315.6 2192.9L320.0 2193.0L324.4 2193.1L328.7 2193.1L333.1 2193.2L337.5 2193.3L341.9 2193.4L346.2 2193.4L350.6 2193.5L355.0 2193.6L359.4 2193.6L363.8 2193.7L368.1 2193.7L372.5 2193.8L376.9 2193.8L381.3 2193.8L385.6 2193.9L390.0 2193.9L394.4 2194.0L398.8 2194.0L403.2 2194.0L407.5 2194.1L411.9 2194.1L416.3 2194.1L420.7 2194.2L425.0 2194.2L429.4 2194.2L433.8 2194.2L438.2 2194.2L442.6 2194.3L446.9 2194.3L451.3 2194.3L455.7 2194.3L460.1 2194.3L464.4 2194.4L468.8 2194.4L473.2 2194.4L477.6 2194.4L482.0 2194.4L486.3 2194.4L490.7 2194.4L495.1 2194.5L499.5 2194.5L503.9 2194.5L508.2 2194.5L512.6 2194.5L517.0 2194.5L521.4 2194.5L525.7 2194.5L530.1 2194.5L534.5 2194.5L538.9 2194.5L543.3 2194.5L547.6 2194.6L552.0 2194.6L556.4 2194.6L560.8 2194.6L565.1 2194.6L569.5 2194.6L573.9 2194.6L578.3 2194.6L582.7 2194.6L587.0 2194.6L591.4 2194.6L595.8 2194.6L600.2 2194.6L604.5 2194.6L608.9 2194.6L613.3 2194.6L617.7 2194.6L622.1 2194.6L626.4 2194.6L630.8 2194.6L635.2 2194.6L639.6 2194.6L643.9 2194.6L648.3 2194.6L652.7 2194.6L657.1 2194.6L661.5 2194.6L665.8 2194.6L670.2 2194.6L674.6 2194.6L679.0 2194.6L683.3 2194.6L687.7 2194.6L692.1 2194.6L696.5 2194.6L700.9 2194.6L705.2 2194.6L709.6 2194.6L714.0 2194.7L718.4 2194.7L722.8 2194.7L727.1 2194.7L731.5 2194.7L735.9 2194.7L740.3 2194.7L744.6 2194.7L749.0 2194.7L753.4 2194.7L757.8 2194.7L762.2 2194.7L766.5 2194.7L770.9 2194.7L775.3 2194.7L779.7 2194.7L784.0 2194.7L788.4 2194.7L792.8 2194.7L797.2 2194.7L801.6 2194.7L805.9 2194.7L810.3 2194.7L814.7 2194.7L819.1 2194.7L823.4 2194.7L827.8 2194.7L832.2 2194.7L836.6 2194.7L841.0 2194.7L845.3 2194.7L849.7 2194.7L854.1 2194.7L858.5 2194.7L862.8 2194.7L867.2 2194.7L871.6 2194.7L876.0 2194.6L880.4 2194.6L884.7 2194.6L889.1 2194.6L893.5 2194.6L897.9 2194.6L902.2 2194.6L906.6 2194.6L911.0 2194.6L915.4 2194.6L919.8 2194.6L924.1 2194.6L928.5 2194.6L932.9 2194.6L937.3 2194.6L941.7 2194.6L946.0 2194.6L950.4 2194.6L954.8 2194.6L959.2 2194.6L963.5 2194.6L967.9 2194.6L972.3 2194.6L976.7 2194.6L981.1 2194.6L985.4 2194.6L989.8 2194.6L994.2 2194.6L998.6 2194.6L1002.9 2194.6L1007.3 2194.6L1011.7 2194.6L1016.1 2194.6L1020.5 2194.6L1024.8 2194.6L1029.2 2194.6L1033.6 2194.6L1038.0 2194.6L1042.3 2194.5L1046.7 2194.5L1051.1 2194.5L1055.5 2194.5L1059.9 2194.5L1064.2 2194.5L1068.6 2194.5L1073.0 2194.5L1077.4 2194.5L1081.7 2194.5L1086.1 2194.5L1090.5 2194.5L1094.9 2194.4L1099.3 2194.4L1103.6 2194.4L1108.0 2194.4L1112.4 2194.4L1116.8 2194.4L1121.2 2194.4L1125.5 2194.3L1129.9 2194.3L1134.3 2194.3L1138.7 2194.3L1143.0 2194.3L1147.4 2194.2L1151.8 2194.2L1156.2 2194.2L1160.6 2194.2L1164.9 2194.2L1169.3 2194.1L1173.7 2194.1L1178.1 2194.1L1182.4 2194.0L1186.8 2194.0L1191.2 2194.0L1195.6 2193.9L1200.0 2193.9L1204.3 2193.8L1208.7 2193.8L1213.1 2193.8L1217.5 2193.7L1221.8 2193.7L1226.2 2193.6L1230.6 2193.6L1235.0 2193.5L1239.4 2193.4L1243.7 2193.4L1248.1 2193.3L1252.5 2193.2L1256.9 2193.1L1261.2 2193.1L1265.6 2193.0L1270.0 2192.9L1274.4 2192.8L1278.8 2192.7L1283.1 2192.6L1287.5 2192.5L1291.9 2192.4L1296.3 2192.3L1300.6 2192.1L1305.0 2192.0L1309.4 2191.9L1313.8 2191.7L1318.2 2191.5L1322.5 2191.4L1326.9 2191.2L1331.3 2191.0L1335.7 2190.8L1340.0 2190.6" fill="none" stroke="#0000f0" stroke-width="5.2" stroke-linejoin="round"/>
<path d="M245.5 2130.6L249.9 2130.6L254.3 2130.6L258.7 2130.6L263.1 2130.6L267.4 2130.6L271.8 2130.6L276.2 2130.6L280.6 2130.6L285.0 2130.6L289.3 2130.6L293.7 2130.6L298.1 2130.6L302.5 2130.6L306.8 2130.6L311.2 2130.6L315.6 2130.6L320.0 2130.6L324.4 2130.6L328.7 2130.6L333.1 2130.6L337.5 2130.6L341.9 2130.6L346.2 2130.6L350.6 2130.6L355.0 2130.6L359.4 2130.6L363.8 2130.6L368.1 2130.6L372.5 2130.6L376.9 2130.6L381.3 2130.6L385.6 2130.6L390.0 2130.6L394.4 2130.6L398.8 2130.6L403.2 2130.6L407.5 2130.6L411.9 2130.6L416.3 2130.6L420.7 2130.6L425.0 2130.6L429.4 2130.6L433.8 2130.6L438.2 2130.6L442.6 2130.6L446.9 2130.6L451.3 2130.6L455.7 2130.6L460.1 2130.6L464.4 2130.6L468.8 2130.6L473.2 2130.6L477.6 2130.6L482.0 2130.6L486.3 2130.6L490.7 2130.6L495.1 2130.6L499.5 2130.6L503.9 2130.6L508.2 2130.6L512.6 2130.6L517.0 2130.6L521.4 2130.6L525.7 2130.6L530.1 2130.6L534.5 2130.6L538.9 2130.6L543.3 2130.6L547.6 2130.6L552.0 2130.6L556.4 2130.6L560.8 2130.6L565.1 2130.6L569.5 2130.6L573.9 2130.6L578.3 2130.6L582.7 2130.6L587.0 2130.6L591.4 2130.6L595.8 2130.6L600.2 2130.6L604.5 2130.6L608.9 2130.6L613.3 2130.6L617.7 2130.6L622.1 2130.6L626.4 2130.6L630.8 2130.6L635.2 2130.6L639.6 2130.6L643.9 2130.6L648.3 2130.6L652.7 2130.6L657.1 2130.6L661.5 2130.6L665.8 2130.6L670.2 2130.6L674.6 2130.6L679.0 2130.6L683.3 2130.6L687.7 2130.6L692.1 2130.6L696.5 2130.6L700.9 2130.6L705.2 2130.6L709.6 2130.6L714.0 2130.6L718.4 2130.6L722.8 2130.6L727.1 2130.6L731.5 2130.6L735.9 2130.6L740.3 2130.6L744.6 2130.6L749.0 2130.6L753.4 2130.6L757.8 2130.6L762.2 2130.6L766.5 2130.6L770.9 2130.6L775.3 2130.6L779.7 2130.6L784.0 2130.6L788.4 2130.6L792.8 2130.6L797.2 2130.6L801.6 2130.6L805.9 2130.6L810.3 2130.6L814.7 2130.6L819.1 2130.6L823.4 2130.6L827.8 2130.6L832.2 2130.6L836.6 2130.6L841.0 2130.6L845.3 2130.6L849.7 2130.6L854.1 2130.6L858.5 2130.6L862.8 2130.6L867.2 2130.6L871.6 2130.6L876.0 2130.6L880.4 2130.6L884.7 2130.6L889.1 2130.6L893.5 2130.6L897.9 2130.6L902.2 2130.6L906.6 2130.6L911.0 2130.6L915.4 2130.6L919.8 2130.6L924.1 2130.6L928.5 2130.6L932.9 2130.6L937.3 2130.6L941.7 2130.6L946.0 2130.6L950.4 2130.6L954.8 2130.6L959.2 2130.6L963.5 2130.6L967.9 2130.6L972.3 2130.6L976.7 2130.6L981.1 2130.6L985.4 2130.6L989.8 2130.6L994.2 2130.6L998.6 2130.6L1002.9 2130.6L1007.3 2130.6L1011.7 2130.6L1016.1 2130.6L1020.5 2130.6L1024.8 2130.6L1029.2 2130.6L1033.6 2130.6L1038.0 2130.6L1042.3 2130.6L1046.7 2130.6L1051.1 2130.6L1055.5 2130.6L1059.9 2130.6L1064.2 2130.6L1068.6 2130.6L1073.0 2130.6L1077.4 2130.6L1081.7 2130.6L1086.1 2130.6L1090.5 2130.6L1094.9 2130.6L1099.3 2130.6L1103.6 2130.6L1108.0 2130.6L1112.4 2130.6L1116.8 2130.6L1121.2 2130.6L1125.5 2130.6L1129.9 2130.6L1134.3 2130.6L1138.7 2130.6L1143.0 2130.6L1147.4 2130.6L1151.8 2130.6L1156.2 2130.6L1160.6 2130.6L1164.9 2130.6L1169.3 2130.6L1173.7 2130.6L1178.1 2130.6L1182.4 2130.6L1186.8 2130.6L1191.2 2130.6L1195.6 2130.6L1200.0 2130.6L1204.3 2130.6L1208.7 2130.6L1213.1 2130.6L1217.5 2130.6L1221.8 2130.6L1226.2 2130.6L1230.6 2130.6L1235.0 2130.6L1239.4 2130.6L1243.7 2130.6L1248.1 2130.6L1252.5 2130.6L1256.9 2130.6L1261.2 2130.6L1265.6 2130.6L1270.0 2130.6L1274.4 2130.6L1278.8 2130.6L1283.1 2130.6L1287.5 2130.6L1291.9 2130.6L1296.3 2130.6L1300.6 2130.6L1305.0 2130.6L1309.4 2130.6L1313.8 2130.6L1318.2 2130.6L1322.5 2130.6L1326.9 2130.6L1331.3 2130.6L1335.7 2130.6L1340.0 2130.6" fill="none" stroke="#00ff00" stroke-width="5.2" stroke-linejoin="round"/>
<path d="M245.5 1906.4L249.9 1905.7L254.3 1905.1L258.7 1904.5L263.1 1903.9L267.4 1903.3L271.8 1902.8L276.2 1902.3L280.6 1901.8L285.0 1901.4L289.3 1900.9L293.7 1900.5L298.1 1900.1L302.5 1899.8L306.8 1899.4L311.2 1899.1L315.6 1898.8L320.0 1898.5L324.4 1898.2L328.7 1897.9L333.1 1897.6L337.5 1897.4L341.9 1897.2L346.2 1896.9L350.6 1896.7L355.0 1896.5L359.4 1896.3L363.8 1896.1L368.1 1896.0L372.5 1895.8L376.9 1895.7L381.3 1895.5L385.6 1895.4L390.0 1895.2L394.4 1895.1L398.8 1895.0L403.2 1894.9L407.5 1894.8L411.9 1894.7L416.3 1894.6L420.7 1894.5L425.0 1894.4L429.4 1894.3L433.8 1894.2L438.2 1894.2L442.6 1894.1L446.9 1894.0L451.3 1893.9L455.7 1893.9L460.1 1893.8L464.4 1893.8L468.8 1893.7L473.2 1893.7L477.6 1893.6L482.0 1893.6L486.3 1893.5L490.7 1893.5L495.1 1893.5L499.5 1893.4L503.9 1893.4L508.2 1893.3L512.6 1893.3L517.0 1893.3L521.4 1893.3L525.7 1893.2L530.1 1893.2L534.5 1893.2L538.9 1893.2L543.3 1893.1L547.6 1893.1L552.0 1893.1L556.4 1893.1L560.8 1893.1L565.1 1893.0L569.5 1893.0L573.9 1893.0L578.3 1893.0L582.7 1893.0L587.0 1893.0L591.4 1893.0L595.8 1892.9L600.2 1892.9L604.5 1892.9L608.9 1892.9L613.3 1892.9L617.7 1892.9L622.1 1892.9L626.4 1892.9L630.8 1892.9L635.2 1892.9L639.6 1892.9L643.9 1892.8L648.3 1892.8L652.7 1892.8L657.1 1892.8L661.5 1892.8L665.8 1892.8L670.2 1892.8L674.6 1892.8L679.0 1892.8L683.3 1892.8L687.7 1892.8L692.1 1892.8L696.5 1892.8L700.9 1892.8L705.2 1892.8L709.6 1892.8L714.0 1892.8L718.4 1892.8L722.8 1892.8L727.1 1892.8L731.5 1892.8L735.9 1892.8L740.3 1892.8L744.6 1892.8L749.0 1892.8L753.4 1892.8L757.8 1892.8L762.2 1892.8L766.5 1892.8L770.9 1892.8L775.3 1892.8L779.7 1892.8L784.0 1892.8L788.4 1892.8L792.8 1892.8L797.2 1892.8L801.6 1892.8L805.9 1892.8L810.3 1892.8L814.7 1892.8L819.1 1892.8L823.4 1892.8L827.8 1892.8L832.2 1892.8L836.6 1892.8L841.0 1892.8L845.3 1892.8L849.7 1892.8L854.1 1892.8L858.5 1892.8L862.8 1892.8L867.2 1892.8L871.6 1892.8L876.0 1892.8L880.4 1892.8L884.7 1892.8L889.1 1892.8L893.5 1892.8L897.9 1892.8L902.2 1892.8L906.6 1892.8L911.0 1892.8L915.4 1892.8L919.8 1892.8L924.1 1892.8L928.5 1892.8L932.9 1892.8L937.3 1892.8L941.7 1892.8L946.0 1892.9L950.4 1892.9L954.8 1892.9L959.2 1892.9L963.5 1892.9L967.9 1892.9L972.3 1892.9L976.7 1892.9L981.1 1892.9L985.4 1892.9L989.8 1892.9L994.2 1893.0L998.6 1893.0L1002.9 1893.0L1007.3 1893.0L1011.7 1893.0L1016.1 1893.0L1020.5 1893.0L1024.8 1893.1L1029.2 1893.1L1033.6 1893.1L1038.0 1893.1L1042.3 1893.1L1046.7 1893.2L1051.1 1893.2L1055.5 1893.2L1059.9 1893.2L1064.2 1893.3L1068.6 1893.3L1073.0 1893.3L1077.4 1893.3L1081.7 1893.4L1086.1 1893.4L1090.5 1893.5L1094.9 1893.5L1099.3 1893.5L1103.6 1893.6L1108.0 1893.6L1112.4 1893.7L1116.8 1893.7L1121.2 1893.8L1125.5 1893.8L1129.9 1893.9L1134.3 1893.9L1138.7 1894.0L1143.0 1894.1L1147.4 1894.2L1151.8 1894.2L1156.2 1894.3L1160.6 1894.4L1164.9 1894.5L1169.3 1894.6L1173.7 1894.7L1178.1 1894.8L1182.4 1894.9L1186.8 1895.0L1191.2 1895.1L1195.6 1895.2L1200.0 1895.4L1204.3 1895.5L1208.7 1895.7L1213.1 1895.8L1217.5 1896.0L1221.8 1896.1L1226.2 1896.3L1230.6 1896.5L1235.0 1896.7L1239.4 1896.9L1243.7 1897.2L1248.1 1897.4L1252.5 1897.6L1256.9 1897.9L1261.2 1898.2L1265.6 1898.5L1270.0 1898.8L1274.4 1899.1L1278.8 1899.4L1283.1 1899.8L1287.5 1900.1L1291.9 1900.5L1296.3 1900.9L1300.6 1901.4L1305.0 1901.8L1309.4 1902.3L1313.8 1902.8L1318.2 1903.3L1322.5 1903.9L1326.9 1904.5L1331.3 1905.1L1335.7 1905.7L1340.0 1906.4" fill="none" stroke="#ff8a10" stroke-width="5.2" stroke-linejoin="round"/>
<path d="M245.5 1457.5L249.9 1455.5L254.3 1453.6L258.7 1451.8L263.1 1450.1L267.4 1448.4L271.8 1446.8L276.2 1445.4L280.6 1444.0L285.0 1442.6L289.3 1441.4L293.7 1440.1L298.1 1439.0L302.5 1437.9L306.8 1436.9L311.2 1435.9L315.6 1435.0L320.0 1434.1L324.4 1433.2L328.7 1432.4L333.1 1431.7L337.5 1430.9L341.9 1430.3L346.2 1429.6L350.6 1429.0L355.0 1428.4L359.4 1427.8L363.8 1427.3L368.1 1426.8L372.5 1426.3L376.9 1425.9L381.3 1425.4L385.6 1425.0L390.0 1424.6L394.4 1424.3L398.8 1423.9L403.2 1423.6L407.5 1423.3L411.9 1422.9L416.3 1422.7L420.7 1422.4L425.0 1422.1L429.4 1421.9L433.8 1421.7L438.2 1421.4L442.6 1421.2L446.9 1421.0L451.3 1420.8L455.7 1420.6L460.1 1420.5L464.4 1420.3L468.8 1420.2L473.2 1420.0L477.6 1419.9L482.0 1419.7L486.3 1419.6L490.7 1419.5L495.1 1419.4L499.5 1419.3L503.9 1419.2L508.2 1419.1L512.6 1419.0L517.0 1418.9L521.4 1418.8L525.7 1418.7L530.1 1418.6L534.5 1418.6L538.9 1418.5L543.3 1418.4L547.6 1418.4L552.0 1418.3L556.4 1418.3L560.8 1418.2L565.1 1418.2L569.5 1418.1L573.9 1418.1L578.3 1418.0L582.7 1418.0L587.0 1417.9L591.4 1417.9L595.8 1417.9L600.2 1417.8L604.5 1417.8L608.9 1417.8L613.3 1417.8L617.7 1417.7L622.1 1417.7L626.4 1417.7L630.8 1417.7L635.2 1417.6L639.6 1417.6L643.9 1417.6L648.3 1417.6L652.7 1417.6L657.1 1417.5L661.5 1417.5L665.8 1417.5L670.2 1417.5L674.6 1417.5L679.0 1417.5L683.3 1417.5L687.7 1417.5L692.1 1417.4L696.5 1417.4L700.9 1417.4L705.2 1417.4L709.6 1417.4L714.0 1417.4L718.4 1417.4L722.8 1417.4L727.1 1417.4L731.5 1417.4L735.9 1417.4L740.3 1417.4L744.6 1417.4L749.0 1417.4L753.4 1417.4L757.8 1417.3L762.2 1417.3L766.5 1417.3L770.9 1417.3L775.3 1417.3L779.7 1417.3L784.0 1417.3L788.4 1417.3L792.8 1417.3L797.2 1417.3L801.6 1417.3L805.9 1417.3L810.3 1417.3L814.7 1417.3L819.1 1417.3L823.4 1417.3L827.8 1417.3L832.2 1417.4L836.6 1417.4L841.0 1417.4L845.3 1417.4L849.7 1417.4L854.1 1417.4L858.5 1417.4L862.8 1417.4L867.2 1417.4L871.6 1417.4L876.0 1417.4L880.4 1417.4L884.7 1417.4L889.1 1417.4L893.5 1417.4L897.9 1417.5L902.2 1417.5L906.6 1417.5L911.0 1417.5L915.4 1417.5L919.8 1417.5L924.1 1417.5L928.5 1417.5L932.9 1417.6L937.3 1417.6L941.7 1417.6L946.0 1417.6L950.4 1417.6L954.8 1417.7L959.2 1417.7L963.5 1417.7L967.9 1417.7L972.3 1417.8L976.7 1417.8L981.1 1417.8L985.4 1417.8L989.8 1417.9L994.2 1417.9L998.6 1417.9L1002.9 1418.0L1007.3 1418.0L1011.7 1418.1L1016.1 1418.1L1020.5 1418.2L1024.8 1418.2L1029.2 1418.3L1033.6 1418.3L1038.0 1418.4L1042.3 1418.4L1046.7 1418.5L1051.1 1418.6L1055.5 1418.6L1059.9 1418.7L1064.2 1418.8L1068.6 1418.9L1073.0 1419.0L1077.4 1419.1L1081.7 1419.2L1086.1 1419.3L1090.5 1419.4L1094.9 1419.5L1099.3 1419.6L1103.6 1419.7L1108.0 1419.9L1112.4 1420.0L1116.8 1420.2L1121.2 1420.3L1125.5 1420.5L1129.9 1420.6L1134.3 1420.8L1138.7 1421.0L1143.0 1421.2L1147.4 1421.4L1151.8 1421.7L1156.2 1421.9L1160.6 1422.1L1164.9 1422.4L1169.3 1422.7L1173.7 1422.9L1178.1 1423.3L1182.4 1423.6L1186.8 1423.9L1191.2 1424.3L1195.6 1424.6L1200.0 1425.0L1204.3 1425.4L1208.7 1425.9L1213.1 1426.3L1217.5 1426.8L1221.8 1427.3L1226.2 1427.8L1230.6 1428.4L1235.0 1429.0L1239.4 1429.6L1243.7 1430.3L1248.1 1430.9L1252.5 1431.7L1256.9 1432.4L1261.2 1433.2L1265.6 1434.1L1270.0 1435.0L1274.4 1435.9L1278.8 1436.9L1283.1 1437.9L1287.5 1439.0L1291.9 1440.1L1296.3 1441.4L1300.6 1442.6L1305.0 1444.0L1309.4 1445.4L1313.8 1446.8L1318.2 1448.4L1322.5 1450.1L1326.9 1451.8L1331.3 1453.6L1335.7 1455.5L1340.0 1457.5" fill="none" stroke="#ff0000" stroke-width="5.2" stroke-linejoin="round"/>
</g>
<g stroke="#000" stroke-width="5.4" fill="none"><path d="M267.4 1372.7v9.0M267.4 2210.8v-9.0"/><path d="M311.2 1372.7v9.0M311.2 2210.8v-9.0"/><path d="M355.0 1372.7v17.5M355.0 2210.8v-17.5"/><path d="M398.8 1372.7v9.0M398.8 2210.8v-9.0"/><path d="M442.6 1372.7v9.0M442.6 2210.8v-9.0"/><path d="M486.3 1372.7v9.0M486.3 2210.8v-9.0"/><path d="M530.1 1372.7v9.0M530.1 2210.8v-9.0"/><path d="M573.9 1372.7v17.5M573.9 2210.8v-17.5"/><path d="M617.7 1372.7v9.0M617.7 2210.8v-9.0"/><path d="M661.5 1372.7v9.0M661.5 2210.8v-9.0"/><path d="M705.2 1372.7v9.0M705.2 2210.8v-9.0"/><path d="M749.0 1372.7v9.0M749.0 2210.8v-9.0"/><path d="M792.8 1372.7v17.5M792.8 2210.8v-17.5"/><path d="M836.6 1372.7v9.0M836.6 2210.8v-9.0"/><path d="M880.4 1372.7v9.0M880.4 2210.8v-9.0"/><path d="M924.1 1372.7v9.0M924.1 2210.8v-9.0"/><path d="M967.9 1372.7v9.0M967.9 2210.8v-9.0"/><path d="M1011.7 1372.7v17.5M1011.7 2210.8v-17.5"/><path d="M1055.5 1372.7v9.0M1055.5 2210.8v-9.0"/><path d="M1099.3 1372.7v9.0M1099.3 2210.8v-9.0"/><path d="M1143.0 1372.7v9.0M1143.0 2210.8v-9.0"/><path d="M1186.8 1372.7v9.0M1186.8 2210.8v-9.0"/><path d="M1230.6 1372.7v17.5M1230.6 2210.8v-17.5"/><path d="M1274.4 1372.7v9.0M1274.4 2210.8v-9.0"/><path d="M1318.2 1372.7v9.0M1318.2 2210.8v-9.0"/><path d="M244.8 2178.5h9.0M1340.8 2178.5h-9.0"/><path d="M244.8 2146.3h9.0M1340.8 2146.3h-9.0"/><path d="M244.8 2114.0h9.0M1340.8 2114.0h-9.0"/><path d="M244.8 2081.8h9.0M1340.8 2081.8h-9.0"/><path d="M244.8 2049.5h18.5M1340.8 2049.5h-18.5"/><path d="M244.8 2017.2h9.0M1340.8 2017.2h-9.0"/><path d="M244.8 1985.0h9.0M1340.8 1985.0h-9.0"/><path d="M244.8 1952.7h9.0M1340.8 1952.7h-9.0"/><path d="M244.8 1920.5h9.0M1340.8 1920.5h-9.0"/><path d="M244.8 1888.2h18.5M1340.8 1888.2h-18.5"/><path d="M244.8 1855.9h9.0M1340.8 1855.9h-9.0"/><path d="M244.8 1823.7h9.0M1340.8 1823.7h-9.0"/><path d="M244.8 1791.4h9.0M1340.8 1791.4h-9.0"/><path d="M244.8 1759.2h9.0M1340.8 1759.2h-9.0"/><path d="M244.8 1726.9h18.5M1340.8 1726.9h-18.5"/><path d="M244.8 1694.6h9.0M1340.8 1694.6h-9.0"/><path d="M244.8 1662.4h9.0M1340.8 1662.4h-9.0"/><path d="M244.8 1630.1h9.0M1340.8 1630.1h-9.0"/><path d="M244.8 1597.9h9.0M1340.8 1597.9h-9.0"/><path d="M244.8 1565.6h18.5M1340.8 1565.6h-18.5"/><path d="M244.8 1533.3h9.0M1340.8 1533.3h-9.0"/><path d="M244.8 1501.1h9.0M1340.8 1501.1h-9.0"/><path d="M244.8 1468.8h9.0M1340.8 1468.8h-9.0"/><path d="M244.8 1436.6h9.0M1340.8 1436.6h-9.0"/><path d="M244.8 1404.3h18.5M1340.8 1404.3h-18.5"/><rect x="244.8" y="1372.7" width="1096.0" height="838.1"/></g>
<text x="225.3" y="2226.3" font-size="56.5" text-anchor="end">0</text>
<text x="225.3" y="2065.0" font-size="56.5" text-anchor="end" textLength="65.3" lengthAdjust="spacingAndGlyphs">10</text>
<text x="225.3" y="1903.7" font-size="56.5" text-anchor="end" textLength="65.3" lengthAdjust="spacingAndGlyphs">20</text>
<text x="225.3" y="1742.4" font-size="56.5" text-anchor="end" textLength="65.3" lengthAdjust="spacingAndGlyphs">30</text>
<text x="225.3" y="1581.1" font-size="56.5" text-anchor="end" textLength="65.3" lengthAdjust="spacingAndGlyphs">40</text>
<text x="225.3" y="1419.8" font-size="56.5" text-anchor="end" textLength="65.3" lengthAdjust="spacingAndGlyphs">50</text>
<text x="354.5" y="2277.0" font-size="56.5" text-anchor="middle">−2</text>
<text x="573.4" y="2277.0" font-size="56.5" text-anchor="middle">−1</text>
<text x="792.8" y="2277.0" font-size="56.5" text-anchor="middle">0</text>
<text x="1011.7" y="2277.0" font-size="56.5" text-anchor="middle">1</text>
<text x="1230.6" y="2277.0" font-size="56.5" text-anchor="middle">2</text>
<text x="346.5" y="2344.0" font-size="58.5" text-anchor="start" textLength="890.0" lengthAdjust="spacingAndGlyphs">Location from the center [mm]</text>
<text x="112.2" y="2176" font-size="79" transform="rotate(-90 112.2 2176)" textLength="766" lengthAdjust="spacingAndGlyphs">CO<tspan font-size="53" dy="22">2</tspan><tspan dy="-22"> concentration [%]</tspan></text>
<text x="304.0" y="1499.0" font-size="50.0" textLength="233.4" lengthAdjust="spacingAndGlyphs">(<tspan font-style="italic">c</tspan><tspan font-size="33.0" dy="12.0">L</tspan><tspan dy="-12.0">, </tspan><tspan font-style="italic">c</tspan><tspan font-size="33.0" dy="12.0">R</tspan><tspan dy="-12.0">) [%]</tspan></text>
<g stroke-width="5.2" stroke-linecap="round" fill="none"><path d="M304.8 1559.0H442.8" stroke="#0000f0"/><path d="M304.8 1628.0H442.8" stroke="#00ff00"/><path d="M304.8 1697.0H442.8" stroke="#ff8a10"/><path d="M304.8 1766.0H442.8" stroke="#ff0000"/><path d="M304.8 1835.0H442.8" stroke="#000"/></g>
<text x="468.0" y="1577.5" font-size="50.0" text-anchor="start">(1, 1)</text>
<text x="468.0" y="1646.5" font-size="50.0" text-anchor="start">(5, 5)</text>
<text x="468.0" y="1715.5" font-size="50.0" text-anchor="start">(20, 20)</text>
<text x="468.0" y="1784.5" font-size="50.0" text-anchor="start">(50, 50)</text>
<text x="468.0" y="1853.5" font-size="50.0" text-anchor="start">(1, 50)</text>
</svg>
</body></html>
